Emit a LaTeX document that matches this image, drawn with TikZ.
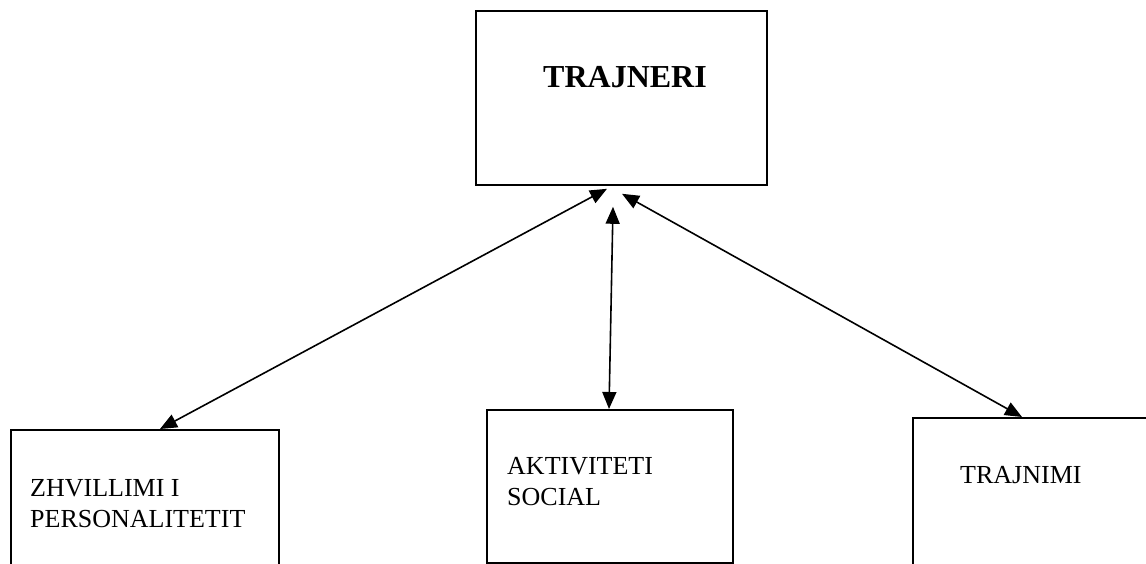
\documentclass[tikz,border=0pt]{standalone}
\usepackage{fontspec}
\setmainfont{Liberation Serif}
\usetikzlibrary{arrows.meta,calc}
\begin{document}
\begin{tikzpicture}[x=1pt,y=-1pt,
  box/.style={draw=black,line width=1.8pt,fill=none,inner sep=0pt,anchor=north west},
  lbl/.style={inner sep=0pt,anchor=base west,align=left,font=\fontsize{26}{31}\selectfont},
  conn/.style={draw=black,line width=1.6pt,{Triangle[length=17pt,width=14pt]}-{Triangle[length=17pt,width=14pt]}}]
\useasboundingbox (0,0) rectangle (1146,564);
\clip (0,0) rectangle (1146,564);
\fill[white] (0,0) rectangle (1146,564);
% boxes
\node[box,minimum width=291pt,minimum height=174pt] (top) at (475,10) {};
\node[box,minimum width=268pt,minimum height=160pt] (zh) at (10,429) {};
\node[box,minimum width=246pt,minimum height=153pt] (ak) at (486,409) {};
\node[box,minimum width=260pt,minimum height=160pt] (tr) at (912,417) {};
% labels
\node[inner sep=0pt,anchor=base west,font=\fontsize{32}{38}\selectfont\bfseries] (ltop) at (543,88) {TRAJNERI};
\node[lbl] (lzh) at (30,527) {ZHVILLIMI I\\PERSONALITETIT};
\node[lbl] (lak) at (507,505) {AKTIVITETI\\SOCIAL};
\node[lbl] (ltr) at (960,483) {TRAJNIMI};
% connector ends
\coordinate (e1) at ($(zh.north west)+(150,0)$);
\coordinate (e2) at ($(ak.north west)+(123,0)$);
\coordinate (e3) at ($(tr.north west)+(110,0)$);
\coordinate (s1) at ($(top.south west)+(132,3)$);
\coordinate (s2) at ($(top.south west)+(138,21)$);
\coordinate (s3) at ($(top.south west)+(147,8)$);
\draw[conn] (s1) -- (e1);
\draw[conn] (s2) -- (e2);
\draw[conn] (s3) -- (e3);
\end{tikzpicture}
\end{document}
